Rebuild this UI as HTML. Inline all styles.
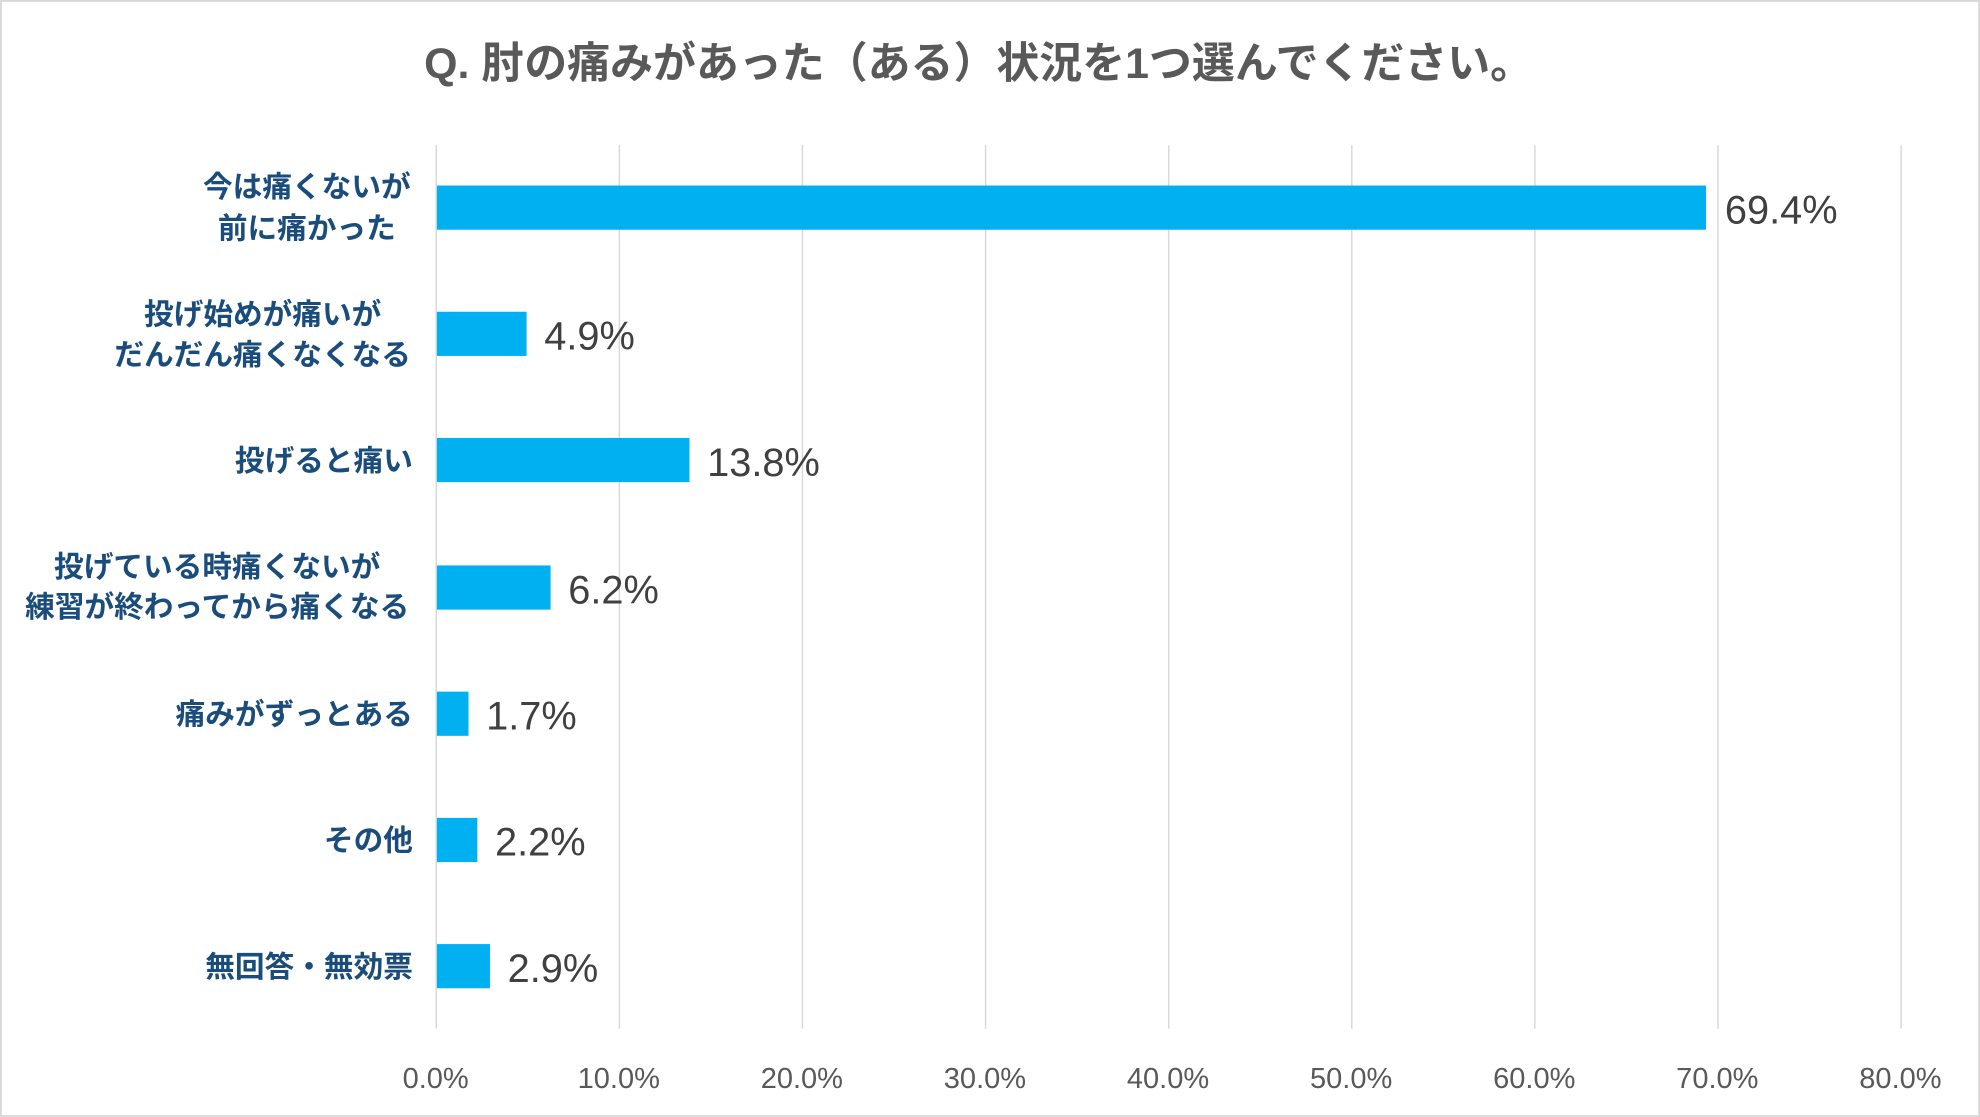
<!DOCTYPE html>
<html><head><meta charset="utf-8"><style>
html,body{margin:0;padding:0;background:#fff;}
svg{display:block;}
</style></head><body>
<svg width="1980" height="1117" viewBox="0 0 1568 885" preserveAspectRatio="none" xmlns="http://www.w3.org/2000/svg">
<rect x="0.5" y="0.5" width="1567" height="884" fill="#fff" stroke="#d9d9d9" stroke-width="2"/>
<text x="775" y="62" text-anchor="middle" font-family="Liberation Sans, Noto Sans CJK JP, sans-serif" font-weight="bold" font-size="34" fill="#595959">Q.  肘の痛みがあった（ある）状況を1つ選んでください。</text>
<g stroke="#d9d9d9" stroke-width="1.2">
<line x1="345.5" y1="115" x2="345.5" y2="815"/>
<line x1="490.5" y1="115" x2="490.5" y2="815"/>
<line x1="635.5" y1="115" x2="635.5" y2="815"/>
<line x1="780.5" y1="115" x2="780.5" y2="815"/>
<line x1="925.5" y1="115" x2="925.5" y2="815"/>
<line x1="1070.5" y1="115" x2="1070.5" y2="815"/>
<line x1="1215.5" y1="115" x2="1215.5" y2="815"/>
<line x1="1360.5" y1="115" x2="1360.5" y2="815"/>
<line x1="1505.5" y1="115" x2="1505.5" y2="815"/>
</g>
<g fill="#00B0F0">
<rect x="346" y="147" width="1005" height="35"/>
<rect x="346" y="247" width="71" height="35"/>
<rect x="346" y="347" width="200" height="35"/>
<rect x="346" y="448" width="90" height="35"/>
<rect x="346" y="548" width="25" height="35"/>
<rect x="346" y="648" width="32" height="35"/>
<rect x="346" y="748" width="42" height="35"/>
</g>
<g font-family="Liberation Sans, sans-serif" font-size="31.5" fill="#404040">
<text x="1366" y="177">69.4%</text>
<text x="431" y="277">4.9%</text>
<text x="560" y="377">13.8%</text>
<text x="450" y="478">6.2%</text>
<text x="385" y="578">1.7%</text>
<text x="392" y="678">2.2%</text>
<text x="402" y="778">2.9%</text>
</g>
<g font-family="Liberation Sans, Noto Sans CJK JP, sans-serif" font-weight="bold" font-size="23.5" fill="#1a4c7c" text-anchor="middle">
<text x="243" y="156">今は痛くないが</text>
<text x="243" y="189">前に痛かった</text>
<text x="208" y="257">投げ始めが痛いが</text>
<text x="208" y="289">だんだん痛くなくなる</text>
<text x="172" y="457">投げている時痛くないが</text>
<text x="172" y="489">練習が終わってから痛くなる</text>
</g>
<g font-family="Liberation Sans, Noto Sans CJK JP, sans-serif" font-weight="bold" font-size="23.5" fill="#1a4c7c" text-anchor="end">
<text x="327" y="373">投げると痛い</text>
<text x="327" y="574">痛みがずっとある</text>
<text x="327" y="674">その他</text>
<text x="327" y="774">無回答・無効票</text>
</g>
<g font-family="Liberation Sans, sans-serif" font-size="23" fill="#595959" text-anchor="middle">
<text x="345" y="862">0.0%</text>
<text x="490" y="862">10.0%</text>
<text x="635" y="862">20.0%</text>
<text x="780" y="862">30.0%</text>
<text x="925" y="862">40.0%</text>
<text x="1070" y="862">50.0%</text>
<text x="1215" y="862">60.0%</text>
<text x="1360" y="862">70.0%</text>
<text x="1505" y="862">80.0%</text>
</g>
</svg>
</body></html>
